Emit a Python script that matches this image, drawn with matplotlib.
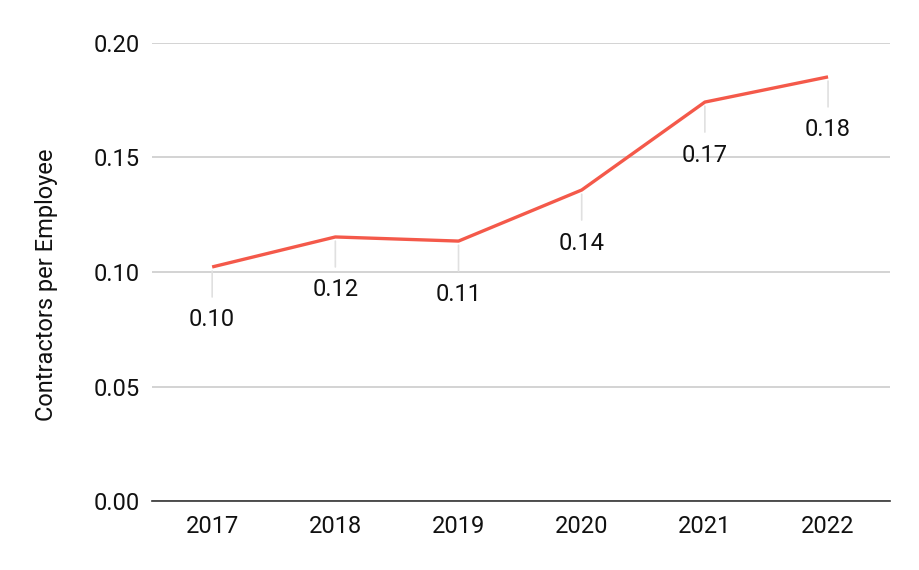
import matplotlib.pyplot as plt
import numpy as np

years = ["2017", "2018", "2019", "2020", "2021", "2022"]
ratio = [0.1022, 0.1153, 0.1135, 0.1358, 0.1742, 0.1852]
labels = ["0.10", "0.12", "0.11", "0.14", "0.17", "0.18"]
yticks = [0.0, 0.05, 0.10, 0.15, 0.20]

plt.rcParams['font.family'] = ['Roboto', 'DejaVu Sans']

fig = plt.figure(figsize=(9.2, 5.7), dpi=100)
ax = fig.add_axes([0.165, 0.121, 0.802, 0.8036])

x = np.arange(len(years))
ax.plot(x, ratio, color="#f4594a", linewidth=2.4, solid_capstyle="butt", zorder=3)

# leader lines and value labels under each point
for xi, yi, lab in zip(x, ratio, labels):
    ax.annotate("", xy=(xi, yi), xytext=(0, -30), textcoords="offset pixels",
                arrowprops=dict(arrowstyle="-", color="#e0e0e0", lw=1.2,
                                shrinkA=0, shrinkB=3), zorder=2)
    ax.annotate(lab, xy=(xi, yi), xytext=(0, -53), textcoords="offset pixels",
                ha="center", va="center", fontsize=17, color="#111111", zorder=4)

ax.set_xlim(-0.49, 5.5)
ax.set_ylim(0, 0.20)
ax.set_xticks(x)
ax.set_xticklabels(years)
ax.set_yticks(yticks)
ax.set_yticklabels(["%.2f" % t for t in yticks])
ax.tick_params(axis="both", length=0, labelsize=17, colors="#111111")
ax.tick_params(axis="y", pad=8.5)
ax.tick_params(axis="x", pad=10)
ax.grid(axis="y", color="#c8c8c8", linewidth=1.1)
ax.set_axisbelow(True)
for s in ["top", "right", "left"]:
    ax.spines[s].set_visible(False)
ax.spines["bottom"].set_color("#333333")
ax.spines["bottom"].set_linewidth(1.2)
ax.set_ylabel("Contractors per Employee", fontsize=17, color="#111111")
ax.yaxis.set_label_coords(-0.127, 0.4716)

fig.savefig("out.png", dpi=100)
